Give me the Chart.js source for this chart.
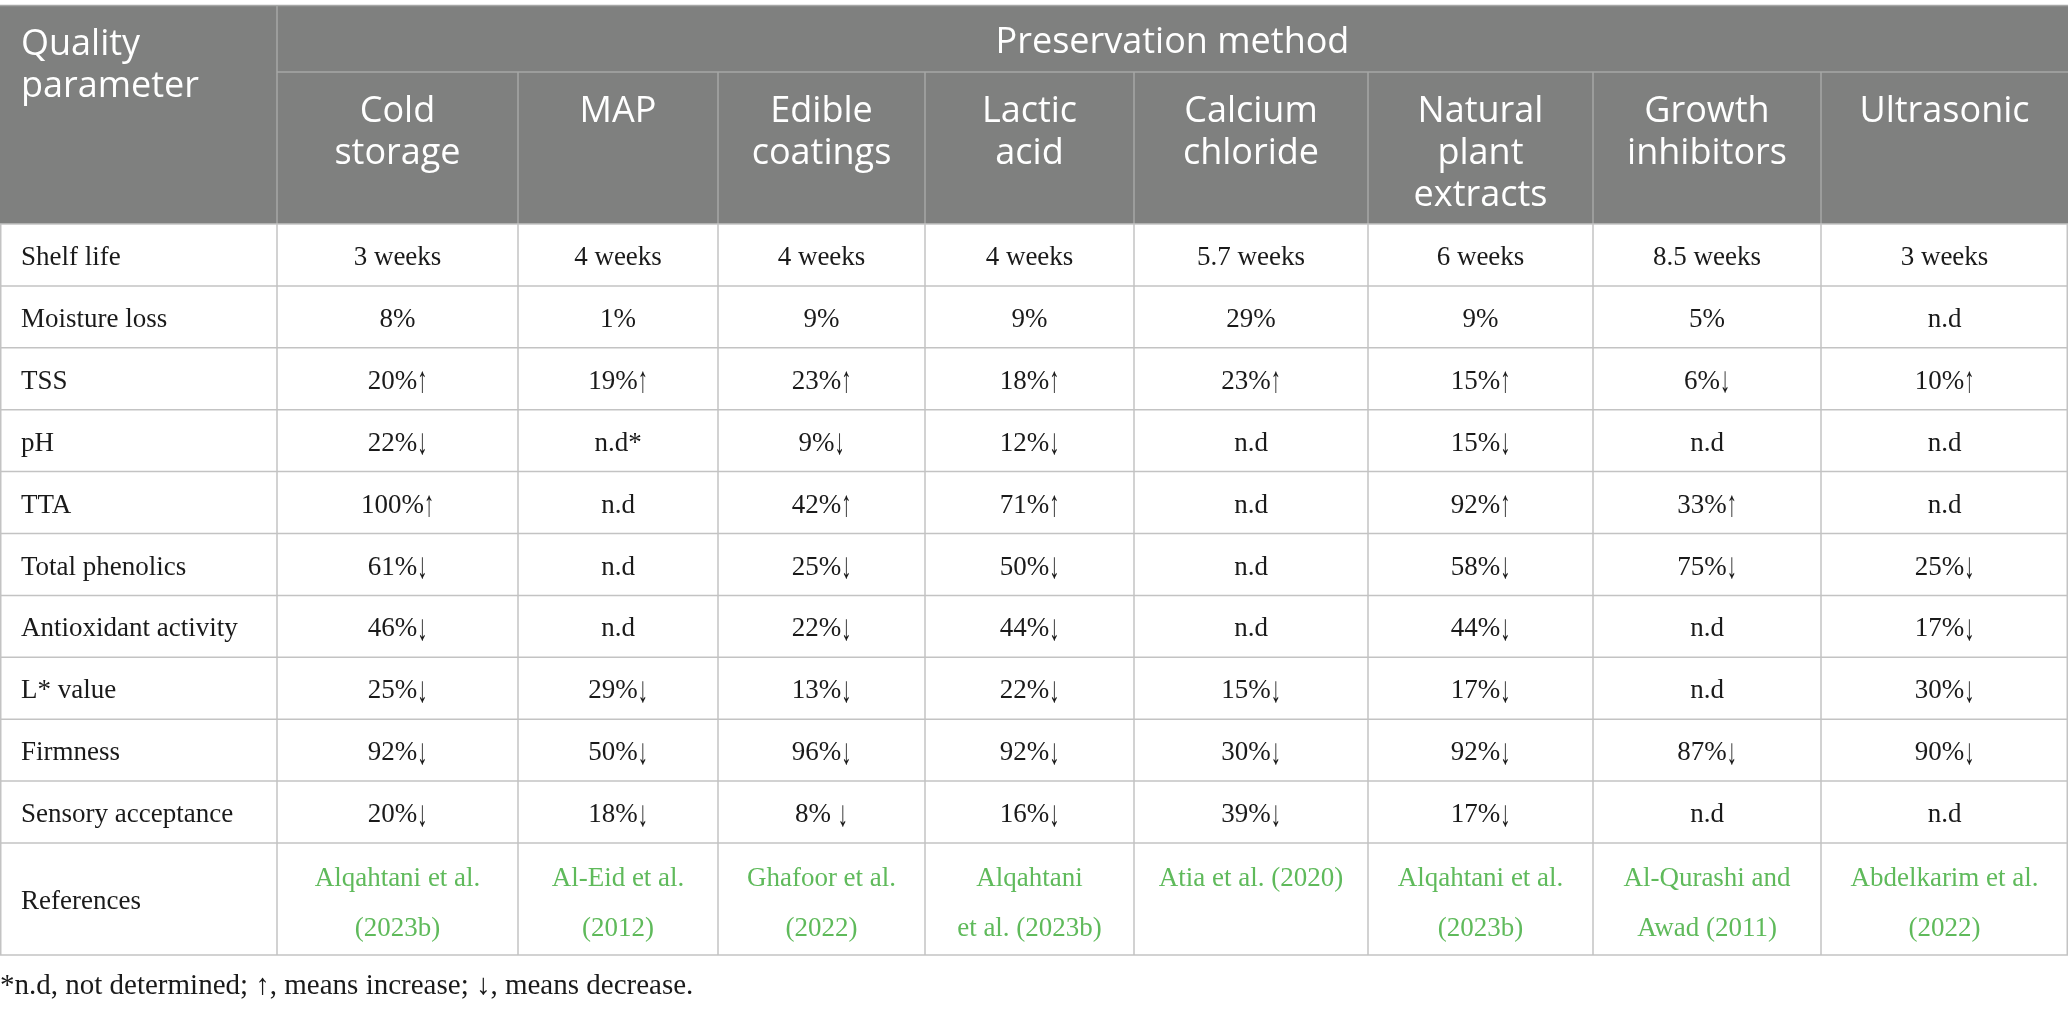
<!DOCTYPE html>
<html>
<head>
<meta charset="utf-8">
<script src="https://cdn.jsdelivr.net/npm/chart.js@4"></script>
<style>
  body { margin: 0; background: #fff; }
  #wrap { width: 2068px; height: 1009px; position: relative; }
</style>
</head>
<body>
<div id="wrap"><canvas id="tableChart"></canvas></div>
<script>
// Column headers (preservation methods), line breaks as in the header
const methods = ["Cold\nstorage", "MAP", "Edible\ncoatings", "Lactic\nacid", "Calcium\nchloride",
  "Natural\nplant\nextracts", "Growth\ninhibitors", "Ultrasonic"];

// Row labels (quality parameters)
const parameters = ["Shelf life", "Moisture loss", "TSS", "pH", "TTA", "Total phenolics",
  "Antioxidant activity", "L* value", "Firmness", "Sensory acceptance"];

// Values per row, one entry per method
const shelfLife = ["3 weeks", "4 weeks", "4 weeks", "4 weeks", "5.7 weeks", "6 weeks", "8.5 weeks", "3 weeks"];
const moistureLoss = ["8%", "1%", "9%", "9%", "29%", "9%", "5%", "n.d"];
const tss = ["20%↑", "19%↑", "23%↑", "18%↑", "23%↑", "15%↑", "6%↓", "10%↑"];
const ph = ["22%↓", "n.d*", "9%↓", "12%↓", "n.d", "15%↓", "n.d", "n.d"];
const tta = ["100%↑", "n.d", "42%↑", "71%↑", "n.d", "92%↑", "33%↑", "n.d"];
const totalPhenolics = ["61%↓", "n.d", "25%↓", "50%↓", "n.d", "58%↓", "75%↓", "25%↓"];
const antioxidant = ["46%↓", "n.d", "22%↓", "44%↓", "n.d", "44%↓", "n.d", "17%↓"];
const lValue = ["25%↓", "29%↓", "13%↓", "22%↓", "15%↓", "17%↓", "n.d", "30%↓"];
const firmness = ["92%↓", "50%↓", "96%↓", "92%↓", "30%↓", "92%↓", "87%↓", "90%↓"];
const sensory = ["20%↓", "18%↓", "8% ↓", "16%↓", "39%↓", "17%↓", "n.d", "n.d"];

const references = ["Alqahtani et al.\n(2023b)", "Al-Eid et al.\n(2012)", "Ghafoor et al.\n(2022)",
  "Alqahtani\net al. (2023b)", "Atia et al. (2020)", "Alqahtani et al.\n(2023b)",
  "Al-Qurashi and\nAwad (2011)", "Abdelkarim et al.\n(2022)"];

const headerTitle = "Quality\nparameter";
const groupTitle = "Preservation method";
const footnote = "*n.d, not determined; ↑, means increase; ↓, means decrease.";

const rows = [shelfLife, moistureLoss, tss, ph, tta, totalPhenolics, antioxidant, lValue, firmness, sensory];

// layout of the grid, in scale units
const colEdges = [0, 277, 518, 718, 925, 1134, 1368, 1593, 1821, 2068];
const tableTop = 5, groupBottom = 72, headBottom = 224, rowH = 61.9, refBottom = 955;

const headFont = '36px "Open Sans", sans-serif';
const bodyFont = '27px "Liberation Serif", "DejaVu Serif", serif';
const arrowFont = '37px "Liberation Serif", "DejaVu Serif", serif';

// draws a value, with a taller, narrow arrow when the value ends with one
function drawValue(ctx, text, cx, cy) {
  const last = text.slice(-1);
  if (last !== "↑" && last !== "↓") {
    ctx.fillText(text, cx, cy);
    return;
  }
  const base = text.slice(0, -1);
  ctx.font = bodyFont;
  const wBase = ctx.measureText(base).width;
  ctx.font = arrowFont;
  const wArrow = ctx.measureText(last).width * 0.55;
  const left = cx - (wBase + wArrow) / 2;
  ctx.textAlign = "left";
  ctx.font = bodyFont;
  ctx.fillText(base, left, cy);
  ctx.save();
  ctx.translate(left + wBase, cy + 1);
  ctx.scale(0.55, 1);
  ctx.font = arrowFont;
  ctx.fillText(last, 0, 0);
  ctx.restore();
  ctx.font = bodyFont;
  ctx.textAlign = "center";
}

const tablePlugin = {
  id: "tablePlugin",
  afterDraw(chart) {
    const ctx = chart.ctx;
    const x = chart.scales.x, y = chart.scales.y;
    const X = v => x.getPixelForValue(v);
    const Y = v => y.getPixelForValue(v);
    const W = X(colEdges[colEdges.length - 1]);
    const refTop = headBottom + rowH * rows.length;

    ctx.save();
    // header background
    ctx.fillStyle = "#7f807f";
    ctx.fillRect(X(0), Y(tableTop), W - X(0), Y(headBottom) - Y(tableTop));

    // header lines
    ctx.strokeStyle = "#a6a7a6";
    ctx.lineWidth = 1.5;
    ctx.beginPath();
    ctx.moveTo(X(0), Y(tableTop) + 0.5); ctx.lineTo(W, Y(tableTop) + 0.5);
    ctx.moveTo(X(colEdges[1]), Y(groupBottom)); ctx.lineTo(W, Y(groupBottom));
    ctx.moveTo(X(colEdges[1]), Y(tableTop)); ctx.lineTo(X(colEdges[1]), Y(headBottom));
    for (let i = 2; i < colEdges.length - 1; i++) {
      ctx.moveTo(X(colEdges[i]), Y(groupBottom)); ctx.lineTo(X(colEdges[i]), Y(headBottom));
    }
    ctx.stroke();

    // body grid
    ctx.strokeStyle = "#c3c3c3";
    ctx.beginPath();
    for (let r = 0; r <= rows.length; r++) {
      const yy = Y(headBottom + rowH * r);
      ctx.moveTo(X(0), yy); ctx.lineTo(W, yy);
    }
    ctx.moveTo(X(0), Y(refBottom)); ctx.lineTo(W, Y(refBottom));
    colEdges.forEach((e, i) => {
      let xx = X(e);
      if (i === 0) xx += 0.75;
      if (i === colEdges.length - 1) xx -= 0.75;
      ctx.moveTo(xx, Y(headBottom)); ctx.lineTo(xx, Y(refBottom));
    });
    ctx.stroke();

    // header text
    ctx.fillStyle = "#ffffff";
    ctx.font = headFont;
    ctx.textBaseline = "middle";
    ctx.textAlign = "left";
    headerTitle.split("\n").forEach((t, i) => ctx.fillText(t, X(21), Y(45 + i * 42)));
    ctx.textAlign = "center";
    ctx.fillText(groupTitle, (X(colEdges[1]) + W) / 2, Y(43));
    methods.forEach((m, c) => {
      const cx = (X(colEdges[c + 1]) + X(colEdges[c + 2])) / 2;
      m.split("\n").forEach((t, i) => ctx.fillText(t, cx, Y(112 + i * 42)));
    });

    // body text
    ctx.font = bodyFont;
    ctx.fillStyle = "#1a1a1a";
    rows.forEach((vals, r) => {
      const cy = Y(headBottom + rowH * (r + 0.5) + 3);
      ctx.textAlign = "left";
      ctx.fillText(parameters[r], X(21), cy);
      ctx.textAlign = "center";
      vals.forEach((v, c) => {
        const cx = (X(colEdges[c + 1]) + X(colEdges[c + 2])) / 2;
        drawValue(ctx, v, cx, cy);
      });
    });

    // references row
    ctx.textAlign = "left";
    ctx.fillText("References", X(21), Y((refTop + refBottom) / 2 + 3));
    ctx.fillStyle = "#5fba5b";
    ctx.textAlign = "center";
    references.forEach((ref, c) => {
      const cx = (X(colEdges[c + 1]) + X(colEdges[c + 2])) / 2;
      ref.split("\n").forEach((t, i) => ctx.fillText(t, cx, Y(refTop + 36 + i * 50)));
    });

    // footnote
    ctx.fillStyle = "#1a1a1a";
    ctx.textAlign = "left";
    ctx.font = '29px "Liberation Serif", "DejaVu Serif", serif';
    ctx.fillText(footnote, X(0), Y(986));
    ctx.restore();
  }
};

new Chart("tableChart", {
  type: "scatter",
  data: { datasets: [] },
  options: {
    responsive: true,
    maintainAspectRatio: false,
    animation: false,
    layout: { padding: 0 },
    plugins: { legend: { display: false }, tooltip: { enabled: false } },
    scales: {
      x: { type: "linear", min: 0, max: 2068, display: false },
      y: { type: "linear", min: 0, max: 1009, reverse: true, display: false }
    }
  },
  plugins: [tablePlugin]
});
</script>
</body>
</html>
